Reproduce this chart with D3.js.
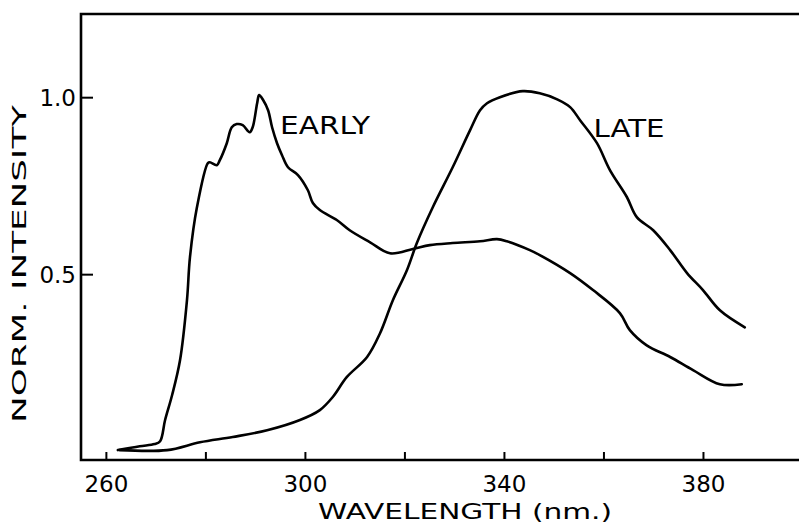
<!DOCTYPE html>
<html>
<head>
<meta charset="utf-8">
<script src="https://cdn.jsdelivr.net/npm/d3@7"></script>
<style>
  html, body { margin: 0; padding: 0; background: #fff; }
  svg { display: block; }
  text { font-family: "DejaVu Sans", sans-serif; fill: #000; }
</style>
</head>
<body>
<svg id="chart" width="799" height="526"></svg>
<script>
// ---- data ----
const earlyWavelength = [262.4,266.8,269.8,270.9,271.9,273.3,274.9,276.3,276.9,278.3,280.5,280.9,282.3,282.9,284.3,285.3,286.3,287.5,288.9,289.5,290.4,290.8,291.6,292.6,293.4,294.4,295.4,296.6,298.6,300.6,301.6,303.0,306.4,309.0,313.1,317.1,321.7,325.1,329.7,335.2,338.6,340.6,345.2,347.2,353.3,357.9,363.3,365.3,368.7,373.4,378.0,383.4,387.8];
const earlyIntensity  = [0.003,0.014,0.020,0.028,0.088,0.158,0.257,0.427,0.548,0.689,0.814,0.816,0.808,0.822,0.870,0.915,0.924,0.921,0.901,0.915,0.983,1.006,0.992,0.963,0.915,0.870,0.836,0.802,0.780,0.737,0.701,0.681,0.653,0.624,0.590,0.559,0.571,0.582,0.588,0.593,0.599,0.593,0.568,0.554,0.503,0.455,0.390,0.342,0.299,0.266,0.229,0.189,0.189];
const lateWavelength  = [262.8,272.3,278.9,285.5,292.4,299.0,303.0,305.6,308.4,312.5,315.1,317.7,320.5,322.5,325.7,329.7,333.2,335.2,336.6,339.2,343.8,347.2,350.7,353.3,355.3,358.7,361.3,364.7,366.7,370.0,373.4,376.8,380.0,383.4,388.4];
const lateIntensity   = [0.003,0.003,0.025,0.040,0.059,0.088,0.116,0.153,0.209,0.266,0.333,0.427,0.511,0.588,0.689,0.802,0.907,0.963,0.983,1.000,1.017,1.011,0.994,0.972,0.935,0.870,0.794,0.718,0.661,0.624,0.568,0.503,0.455,0.398,0.350];
const xTickValues = [260,280,300,320,340,360,380];
const xTickLabels = ["260","","300","","340","","380"];
const yTickValues = [0.5,1.0];
const yTickLabels = ["0.5","1.0"];
const seriesLabels = [
  {name:"EARLY", wl:295.0, v:0.895, len:90},
  {name:"LATE",  wl:358.0, v:0.887, len:71}
];

// ---- scales ----
const svg = d3.select("#chart");
const x = d3.scaleLinear().domain([255, 399.3]).range([81, 799]);
const y = d3.scaleLinear().domain([-0.025, 1.235]).range([460, 14]);

const ink = "#000";

// frame: left axis, top border, bottom axis
svg.append("path")
  .attr("d", `M${x(399.3)},${y(1.235)} L${x(255)},${y(1.235)} L${x(255)},${y(-0.025)} L${x(399.3)},${y(-0.025)}`)
  .attr("fill","none").attr("stroke",ink).attr("stroke-width",2.6);

// x axis ticks (inward) and labels
const xAxis = d3.axisBottom(x).tickValues(xTickValues)
  .tickSizeInner(-8).tickSizeOuter(0)
  .tickFormat((d,i) => xTickLabels[i]);
const gx = svg.append("g").attr("transform", `translate(0,${y(-0.025)})`).call(xAxis);
gx.select(".domain").remove();
gx.selectAll(".tick line").attr("stroke",ink).attr("stroke-width",2);
gx.selectAll(".tick text").attr("font-size",23).attr("font-family","DejaVu Sans, sans-serif")
  .attr("fill",ink).attr("dy",null).attr("y",32);

// y axis ticks (inward) and labels
const yAxis = d3.axisLeft(y).tickValues(yTickValues)
  .tickSizeInner(-12).tickSizeOuter(0)
  .tickFormat((d,i) => yTickLabels[i]);
const gy = svg.append("g").attr("transform", `translate(${x(255)},0)`).call(yAxis);
gy.select(".domain").remove();
gy.selectAll(".tick line").attr("stroke",ink).attr("stroke-width",2);
gy.selectAll(".tick text").attr("font-size",23).attr("font-family","DejaVu Sans, sans-serif")
  .attr("fill",ink).attr("x",-5).attr("dy","0.36em");

// axis titles
svg.append("text").attr("x",318).attr("y",519)
  .attr("font-size",22).attr("textLength",294).attr("lengthAdjust","spacingAndGlyphs")
  .text("WAVELENGTH  (nm.)");
svg.append("text").attr("transform","translate(26,423) rotate(-90)")
  .attr("font-size",19.5).attr("textLength",318).attr("lengthAdjust","spacingAndGlyphs")
  .text("NORM. INTENSITY");

// curves
const line = d3.line().x(d => x(d[0])).y(d => y(d[1])).curve(d3.curveCatmullRom.alpha(0.5));
const early = earlyWavelength.map((w,i) => [w, earlyIntensity[i]]);
const late = lateWavelength.map((w,i) => [w, lateIntensity[i]]);
[early, late].forEach(s => {
  svg.append("path").datum(s).attr("d", line)
    .attr("fill","none").attr("stroke",ink).attr("stroke-width",2.6)
    .attr("stroke-linejoin","round").attr("stroke-linecap","round");
});

// series labels
seriesLabels.forEach(l => {
  svg.append("text").attr("x", x(l.wl)).attr("y", y(l.v))
    .attr("font-size",24).attr("textLength",l.len).attr("lengthAdjust","spacingAndGlyphs")
    .text(l.name);
});
</script>
</body>
</html>
